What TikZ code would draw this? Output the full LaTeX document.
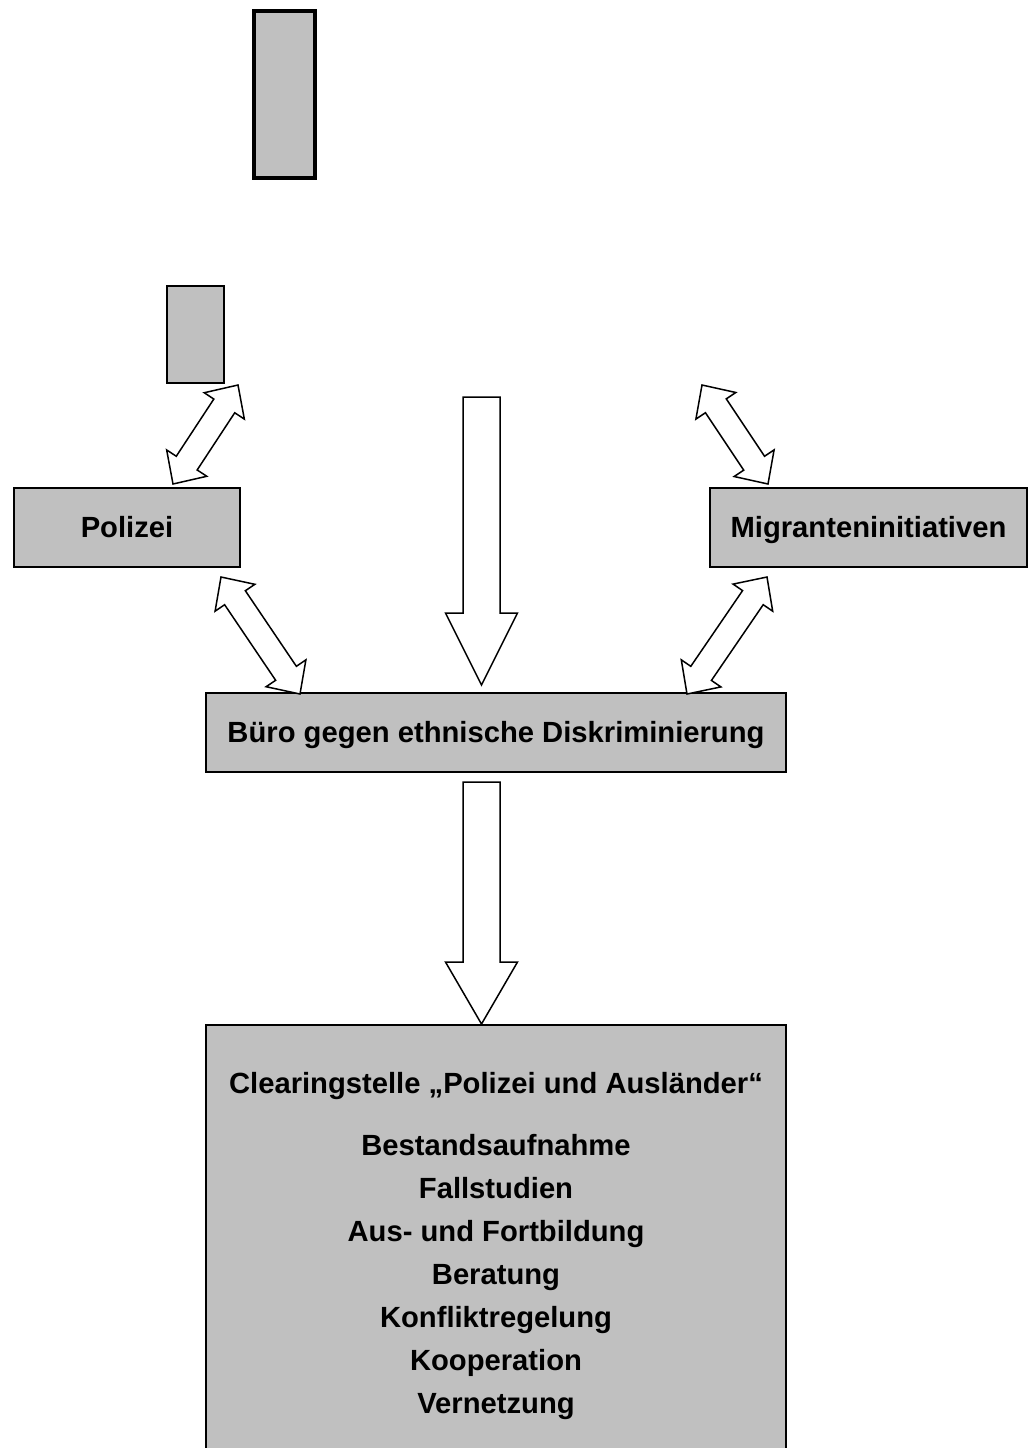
\documentclass[tikz,border=0pt]{standalone}
\usepackage{fontspec}
\setmainfont{Liberation Sans}
\usetikzlibrary{calc}
\definecolor{boxgray}{HTML}{C0C0C0}
\tikzset{
  box/.style={draw=black, fill=boxgray, line width=0.8pt, inner sep=0pt, rectangle},
  lbl/.style={font=\fontsize{14.6pt}{21.5pt}\selectfont\bfseries, align=center, inner sep=0pt},
  onelbl/.style={lbl, text height=10.5pt, text depth=3pt, yshift=-1pt},
  arrowline/.style={draw=black, fill=white, line width=0.75pt, line join=miter},
}
% single block arrow: #1 tail, #2 tip, #3 head length, #4 head half width, #5 shaft half width
\newcommand\singleblock[5]{%
  \coordinate (ba-h) at ($(#2)!#3!(#1)$);
  \draw[arrowline] ($(#1)!#5!90:(#2)$) -- ($(ba-h)!#5!-90:(#1)$) -- ($(ba-h)!#4!-90:(#1)$) -- (#2)
    -- ($(ba-h)!#4!90:(#1)$) -- ($(ba-h)!#5!90:(#1)$) -- ($(#1)!#5!-90:(#2)$) -- cycle;
}
% double block arrow: #1 tip, #2 tip, #3 head length, #4 head half width, #5 shaft half width
\newcommand\doubleblock[5]{%
  \coordinate (ba-p) at ($(#1)!#3!(#2)$);
  \coordinate (ba-q) at ($(#2)!#3!(#1)$);
  \draw[arrowline] (#1) -- ($(ba-p)!#4!90:(#2)$) -- ($(ba-p)!#5!90:(#2)$) -- ($(ba-q)!#5!-90:(#1)$)
    -- ($(ba-q)!#4!-90:(#1)$) -- (#2) -- ($(ba-q)!#4!90:(#1)$) -- ($(ba-q)!#5!90:(#1)$)
    -- ($(ba-p)!#5!-90:(#2)$) -- ($(ba-p)!#4!-90:(#2)$) -- cycle;
}
\begin{document}
\begin{tikzpicture}[x=0.5pt, y=-0.5pt]
\useasboundingbox (0,0) rectangle (1029,1448);
\clip (0,0) rectangle (1029,1448);

% boxes
\node[box, line width=2pt, minimum width=30.5pt, minimum height=83.3pt] (topbox) at (284.2,94.7) {};
\node[box, minimum width=28.5pt, minimum height=48.5pt] (smallbox) at (195.5,334.5) {};
\node[box, minimum width=113pt, minimum height=39.5pt] (polizei) at (127,527.5) {};
\node[onelbl] at (polizei.center) {Polizei};
\node[box, minimum width=158.5pt, minimum height=39.5pt] (migr) at (868.5,527.5) {};
\node[onelbl] at (migr.center) {Migranteninitiativen};
\node[box, minimum width=290pt, minimum height=39.5pt] (buero) at (496,732.5) {};
\node[onelbl] at (buero.center) {Büro gegen ethnische Diskriminierung};
\node[box, minimum width=290pt, minimum height=225pt, anchor=north] (clear) at (496,1024) {};
\node[onelbl] (cleartitle) at (496,1084) {Clearingstelle „Polizei und Ausländer“};
\node[lbl, anchor=north] (clearlist) at (496,1134) {Bestandsaufnahme\\Fallstudien\\Aus- und Fortbildung\\Beratung\\Konfliktregelung\\Kooperation\\Vernetzung};

% arrow end points
\coordinate (a1a) at (238,385);
\coordinate (a1b) at (173,484);
\coordinate (a2a) at (702,385);
\coordinate (a2b) at (768,484);
\coordinate (a3a) at (221,577);
\coordinate (a3b) at (300,694);
\coordinate (a4a) at (767,577);
\coordinate (a4b) at (687,694);
\coordinate (vA1) at (481.5,397);
\coordinate (vA2) at (481.5,685);
\coordinate (vB1) at (481.5,782);
\coordinate (vB2) at ($(clear.north)+(-14.5,0)$);

\doubleblock{a1a}{a1b}{12.5pt}{12pt}{6.25pt}
\doubleblock{a2a}{a2b}{12.5pt}{12pt}{6.25pt}
\doubleblock{a3a}{a3b}{12.5pt}{12pt}{6.25pt}
\doubleblock{a4a}{a4b}{12.5pt}{12pt}{6.25pt}
\singleblock{vA1}{vA2}{36pt}{18pt}{9.25pt}
\singleblock{vB1}{vB2}{31pt}{18pt}{9.25pt}
\end{tikzpicture}
\end{document}
